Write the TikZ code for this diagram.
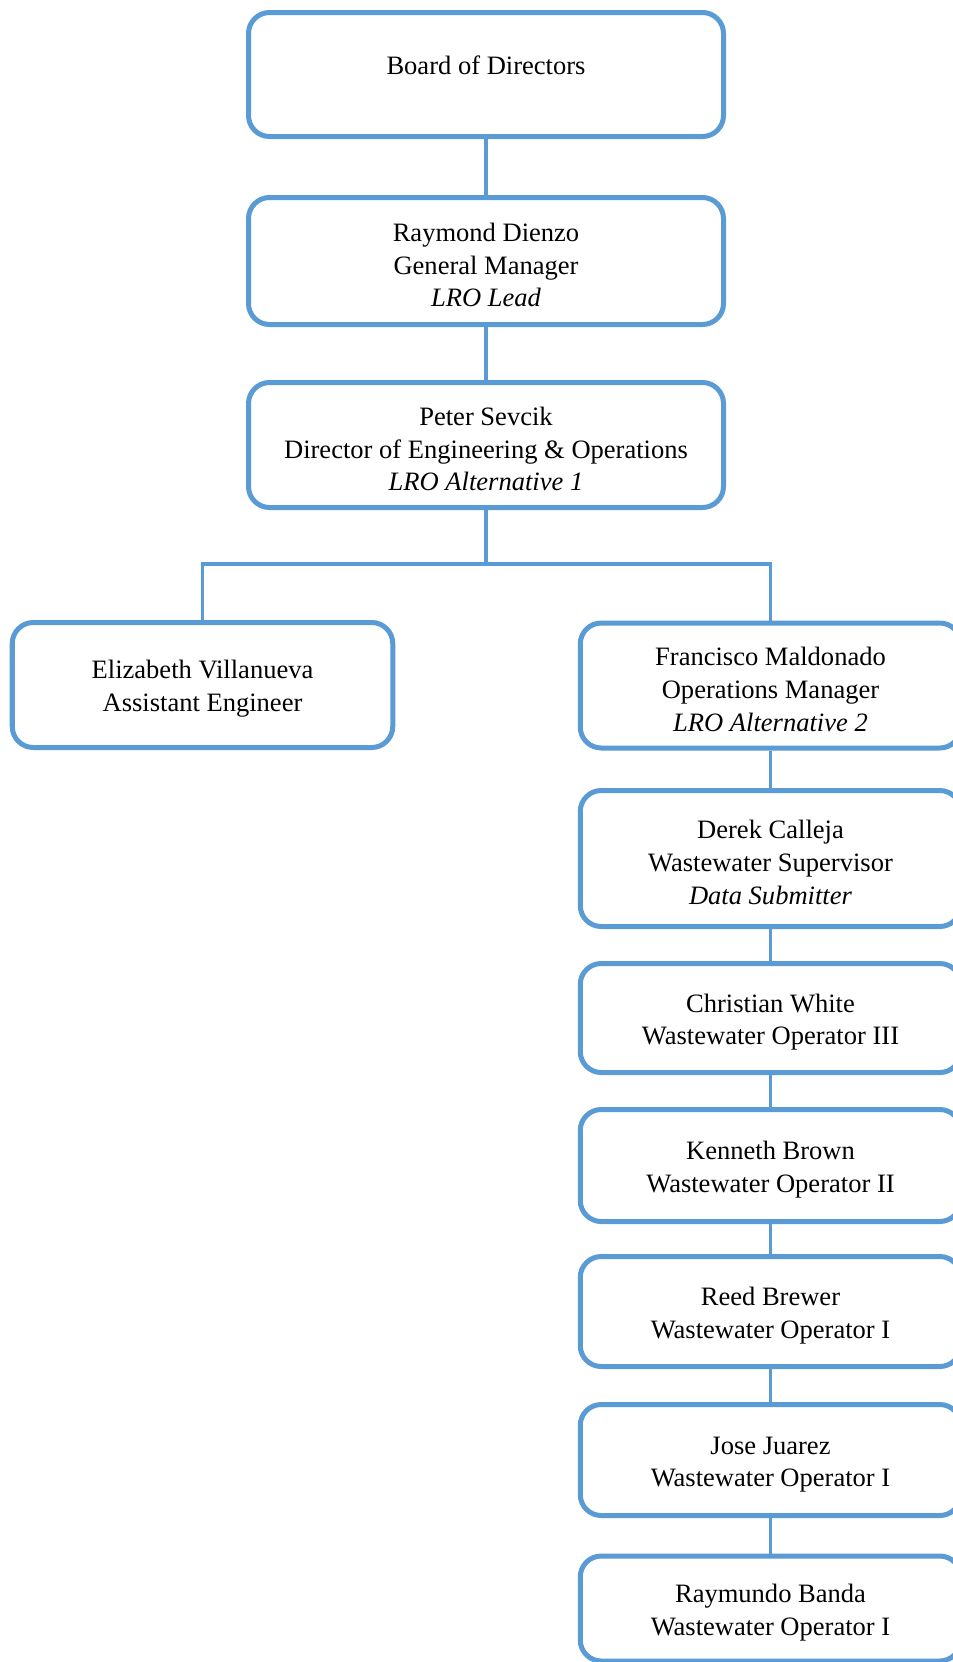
\documentclass[tikz,border=0pt]{standalone}
\usepackage{fontspec}
\setmainfont{Liberation Serif}
\usepackage{xcolor}
\definecolor{boxblue}{HTML}{5B9BD5}
\usepackage{tikz}
\usetikzlibrary{positioning}
\newcommand{\toppad}{\rule{0pt}{15pt}}

\begin{document}
\begin{tikzpicture}[
    staff/.style={rectangle, rounded corners=0.42cm, draw=boxblue, fill=white, line width=0.1cm, minimum width=9.5cm, align=center, font=\fontsize{15.1}{18.6}\selectfont},
    side/.style={staff, minimum width=7.61cm},
    link/.style={draw=boxblue, line width=0.07cm},
  ]
    \useasboundingbox (0,0) rectangle (19.06,-33.24);
    % Top of the chart
    \node[staff, minimum height=2.48cm] (board) at (9.72,-1.49) {\toppad Board of Directors\\[-3.6pt] \mbox{}};
    \node[staff, minimum height=2.54cm] (gm) at (9.72,-5.22) {\toppad Raymond Dienzo\\General Manager\\\textit{LRO Lead}};
    \node[staff, minimum height=2.5cm] (dir) at (9.72,-8.9) {\toppad Peter Sevcik\\Director of Engineering \& Operations\\\textit{LRO Alternative 1}};
    \coordinate (split) at (9.72,-11.28);
    % Second level
    \node[side, minimum height=2.5cm] (eng) at (4.05,-13.7) {\toppad Elizabeth Villanueva\\Assistant Engineer};
    \node[side, minimum height=2.5cm] (ops) at (15.41,-13.71) {\toppad Francisco Maldonado\\Operations Manager\\\textit{LRO Alternative 2}};
    % Wastewater staff
    \node[side, minimum height=2.72cm] (sup) at (15.41,-17.17) {\toppad Derek Calleja\\Wastewater Supervisor\\\textit{Data Submitter}};
    \node[side, minimum height=2.18cm] (op3) at (15.41,-20.36) {\toppad Christian White\\Wastewater Operator III};
    \node[side, minimum height=2.24cm] (op2) at (15.41,-23.31) {\toppad Kenneth Brown\\Wastewater Operator II};
    \node[side, minimum height=2.2cm] (opa) at (15.41,-26.23) {\toppad Reed Brewer\\Wastewater Operator I};
    \node[side, minimum height=2.22cm] (opb) at (15.41,-29.2) {\toppad Jose Juarez\\Wastewater Operator I};
    \node[side, minimum height=2.1cm] (opc) at (15.41,-32.17) {\toppad Raymundo Banda\\Wastewater Operator I};
    % Lines
    \draw[link] (board) -- (gm);
    \draw[link] (gm) -- (dir);
    \draw[link] (dir) -- (split) -| (eng);
    \draw[link] (split) -| (ops);
    \draw[link] (ops) -- (sup);
    \draw[link] (sup) -- (op3);
    \draw[link] (op3) -- (op2);
    \draw[link] (op2) -- (opa);
    \draw[link] (opa) -- (opb);
    \draw[link] (opb) -- (opc);
  \end{tikzpicture}
\end{document}
